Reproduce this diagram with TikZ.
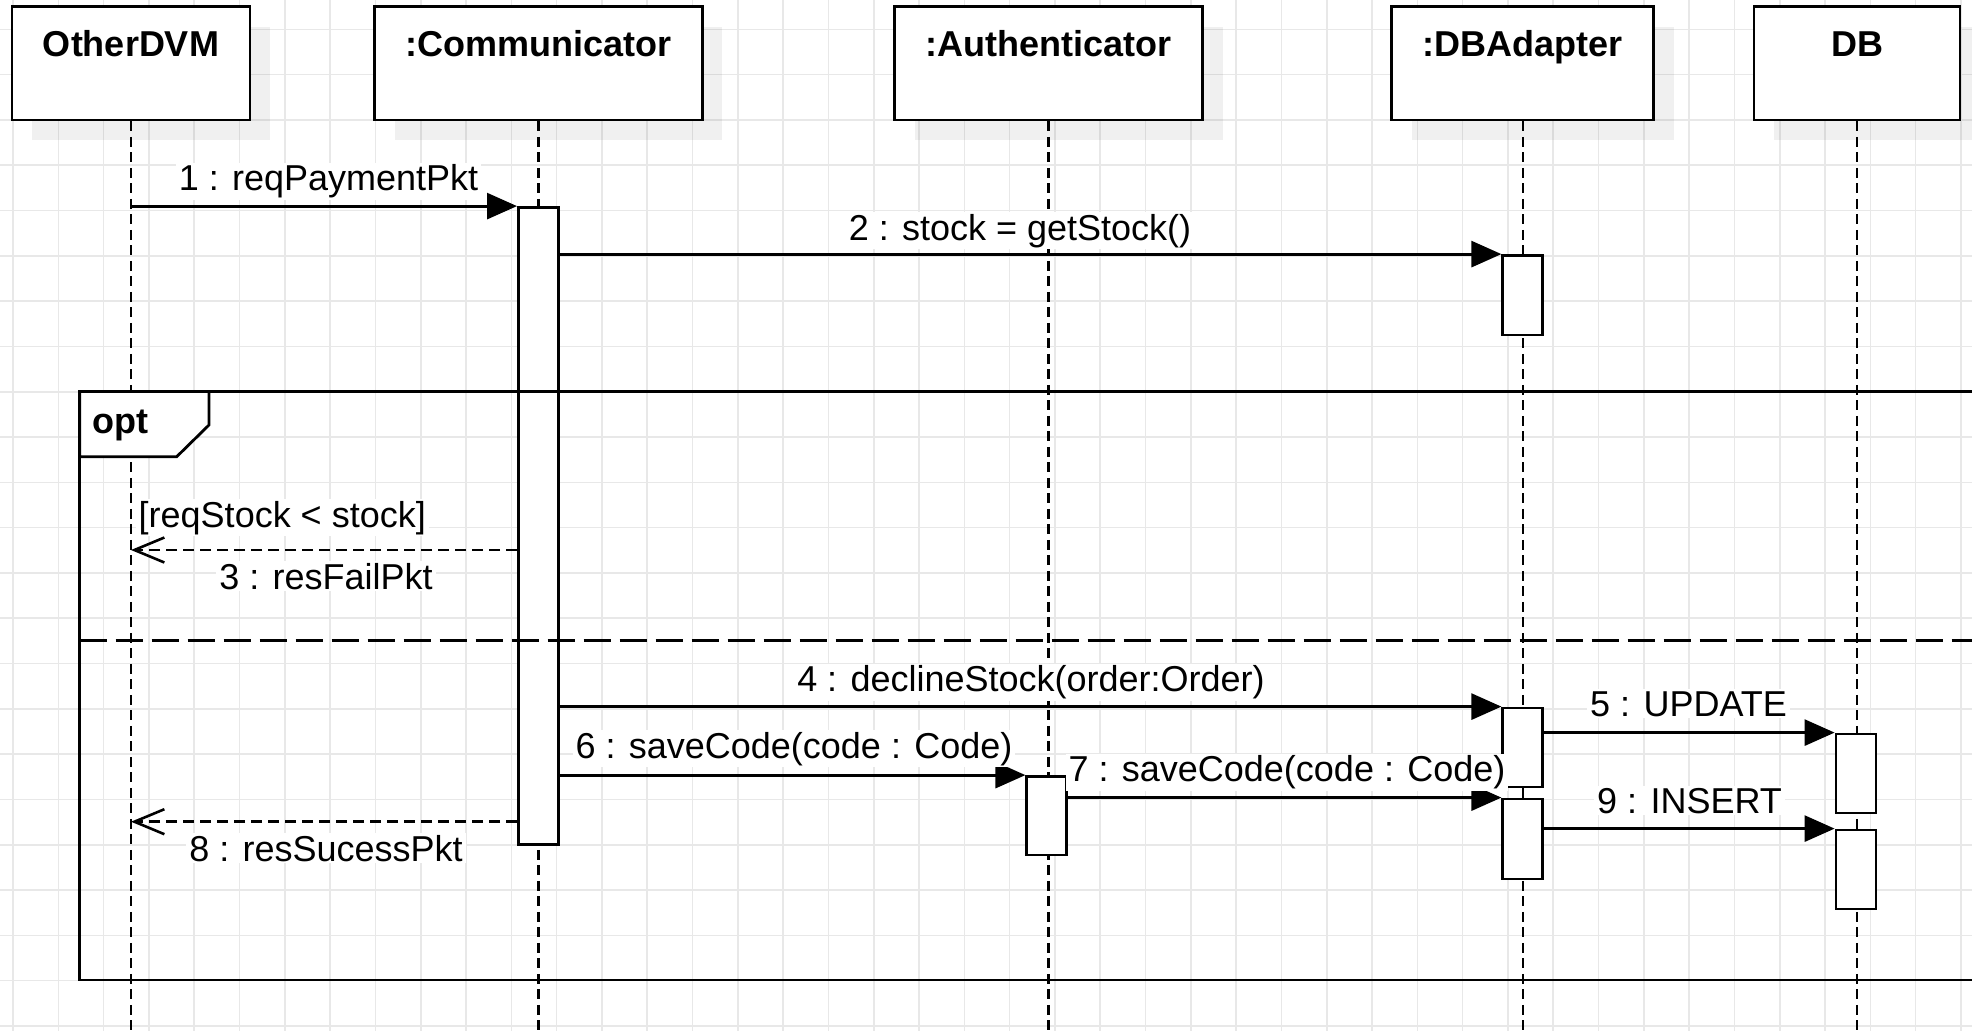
\documentclass[tikz,border=0pt]{standalone}
\usepackage{fontspec}
\setmainfont{Liberation Sans}
\usetikzlibrary{arrows.meta,calc,shadows}
\begin{document}
\begin{tikzpicture}[x=1pt,y=-1pt,
  gridline/.style={draw=black!9,line width=1.6pt},
  head/.style={draw,line width=2.8pt,fill=white,minimum height=113.3pt,inner sep=0pt,
    drop shadow={shadow xshift=20pt,shadow yshift=-20pt,fill=black,opacity=0.06}},
  ttl/.style={anchor=base,font=\fontsize{36}{43}\selectfont\bfseries,inner sep=0pt},
  lifeline/.style={line width=2.6pt,dash pattern=on 10pt off 5.5pt},
  actbar/.style={draw,line width=2.8pt,fill=white,minimum width=40pt,inner sep=0pt},
  call/.style={line width=2.8pt,-{Triangle[length=30pt,width=26pt]}},
  reply/.style={line width=2.6pt,dash pattern=on 11pt off 6pt,-{Straight Barb[length=30pt,width=25pt,line width=2.6pt]}},
  lbl/.style={anchor=base,fill=white,inner xsep=3pt,inner ysep=2pt,font=\fontsize{36}{43}\selectfont},
  framebox/.style={line width=2.8pt},
  sepline/.style={line width=2.8pt,dash pattern=on 27pt off 9pt}]
\useasboundingbox (0,0) rectangle (1972,1031);
\clip (0,0) rectangle (1972,1031);
\fill[white] (0,0) rectangle (1972,1031);
% grid
\foreach \i in {0,...,43} \draw[gridline] ({13+45.3*\i},0) -- ({13+45.3*\i},1031);
\foreach \j in {0,...,22} \draw[gridline] (0,{29.3+45.3*\j}) -- (1972,{29.3+45.3*\j});
% heads
\node[head,minimum width=238pt] (odvm) at (131,63.4) {};
\node[head,minimum width=327.5pt] (comm) at (538.5,63.4) {};
\node[head,minimum width=308pt] (auth) at (1048.5,63.4) {};
\node[head,minimum width=262pt] (dba) at (1522.8,63.4) {};
\node[head,minimum width=206pt] (db) at (1857,63.4) {};
\node[ttl] (t1) at (odvm.center |- 0,56) {OtherDVM};
\node[ttl] (t2) at (comm.center |- 0,56) {:Communicator};
\node[ttl] (t3) at (auth.center |- 0,56) {:Authenticator};
\node[ttl] (t4) at (dba.center |- 0,56) {:DBAdapter};
\node[ttl] (t5) at (db.center |- 0,56) {DB};
% lifelines
\coordinate (bottom) at (0,1031);
\foreach \h in {odvm,comm,auth,dba,db} \draw[lifeline] (\h.south) -- (\h.south |- bottom);
% activation bars
\node[actbar,minimum height=636.8pt] (cbar) at (538.4,525.9) {};
\node[actbar,minimum height=79.5pt] (dbar1) at (1522.8,295.25) {};
\node[actbar,minimum height=79pt] (dbar2) at (1522.8,747.5) {};
\node[actbar,minimum height=80pt] (dbar3) at (1522.8,839) {};
\node[actbar,minimum height=78.5pt] (abar) at (1046.8,815.75) {};
\node[actbar,minimum height=79pt] (dbbar1) at (1856,773.5) {};
\node[actbar,minimum height=79pt] (dbbar2) at (1856,869.5) {};
% opt frame
\draw[framebox] (79.6,391.5) rectangle (2010,980);
\draw[framebox,fill=white] (79.6,391.5) -- (209,391.5) -- (209,425) -- (176.7,456.7) -- (79.6,456.7) -- cycle;
\node[anchor=base west,inner sep=0pt,font=\fontsize{36}{43}\selectfont\bfseries] (optlbl) at (92.5,433) {opt};
\draw[sepline] (79.6,640.5) -- (1990,640.5);
% messages
\coordinate (m3) at (0,550);
\coordinate (m8) at (0,821.7);
\draw[call] (odvm.south |- cbar.north) -- (cbar.north west);
\draw[call] (cbar.east |- dbar1.north) -- (dbar1.north west);
\draw[reply] (cbar.west |- m3) -- (odvm.south |- m3);
\draw[call] (cbar.east |- dbar2.north) -- (dbar2.north west);
\draw[call] (dbar2.east |- dbbar1.north) -- (dbbar1.north west);
\draw[call] (cbar.east |- abar.north) -- (abar.north west);
\draw[call] (abar.east |- dbar3.north) -- (dbar3.north west);
\draw[reply] (cbar.west |- m8) -- (odvm.south |- m8);
\draw[call] (dbar3.east |- dbbar2.north) -- (dbbar2.north west);
% labels
\node[lbl] (l1) at (328.5,190.7) {1 : reqPaymentPkt};
\node[lbl] (l2) at (1020,240) {2 : stock = getStock()};
\node[lbl,anchor=base west] (guard) at (135.5,527) {[reqStock < stock]};
\node[lbl] (l3) at (326,589) {3 : resFailPkt};
\node[lbl] (l4) at (1031,691.7) {4 : declineStock(order:Order)};
\node[lbl] (l5) at (1688.5,716) {5 : UPDATE};
\node[lbl] (l6) at (794,758) {6 : saveCode(code : Code)};
\node[lbl] (l7) at (1287,781.7) {7 : saveCode(code : Code)};
\node[lbl] (l8) at (326,861) {8 : resSucessPkt};
\node[lbl] (l9) at (1689.5,813) {9 : INSERT};
\end{tikzpicture}
\end{document}
